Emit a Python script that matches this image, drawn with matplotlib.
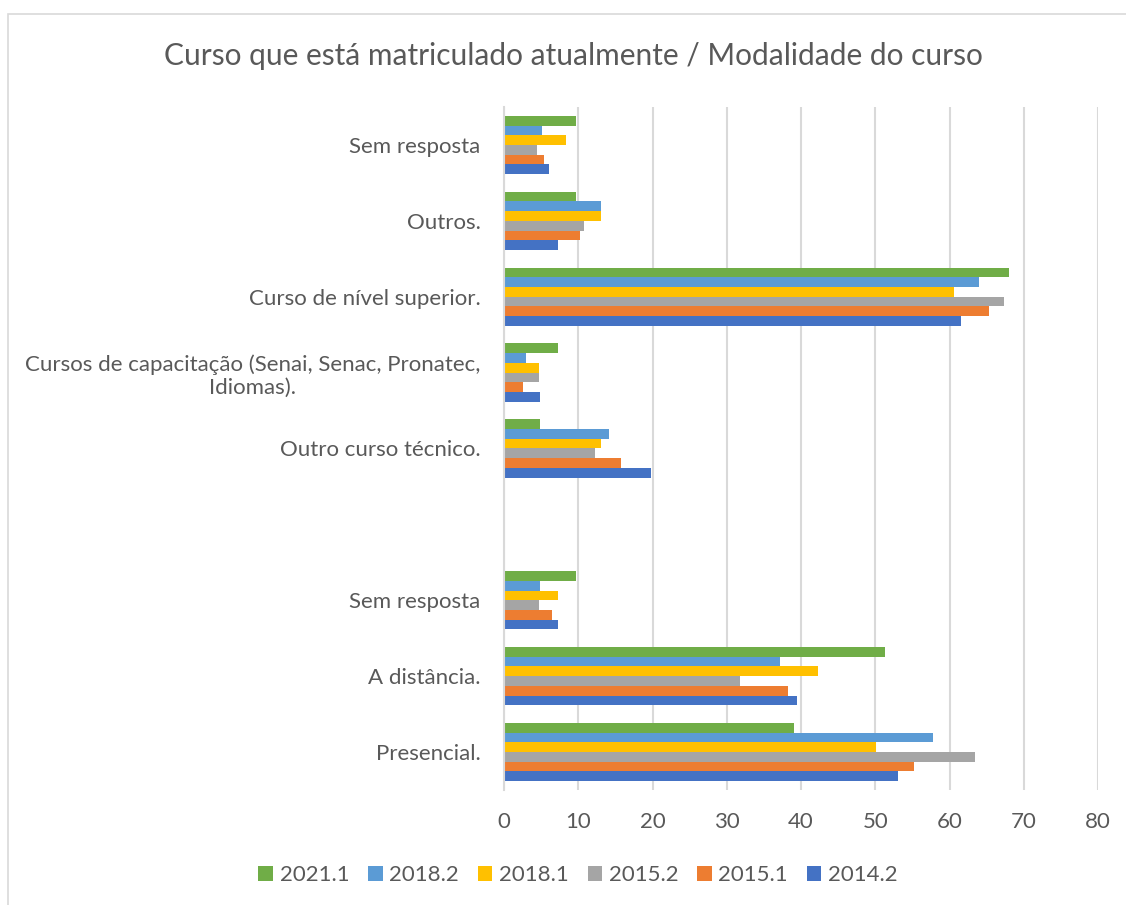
import numpy as np
import matplotlib
matplotlib.use("Agg")
import matplotlib.pyplot as plt
from matplotlib.patches import Rectangle

# categorias (de baixo para cima)
categorias = ["Presencial.", "A distância.", "Sem resposta", "",
              "Outro curso técnico.",
              "Cursos de capacitação (Senai, Senac, Pronatec,\nIdiomas).",
              "Curso de nível superior.", "Outros.", "Sem resposta"]

series = ["2014.2", "2015.1", "2015.2", "2018.1", "2018.2", "2021.1"]
cores = ["#4472C4", "#ED7D31", "#A5A5A5", "#FFC000", "#5B9BD5", "#70AD47"]

v_2014_2 = [53.1, 39.5, 7.3, 0, 19.8, 4.8, 61.5, 7.3, 6.1]
v_2015_1 = [55.2, 38.3, 6.5, 0, 15.8, 2.6, 65.3, 10.3, 5.4]
v_2015_2 = [63.4, 31.8, 4.7, 0, 12.2, 4.7, 67.3, 10.8, 4.4]
v_2018_1 = [50.1, 42.3, 7.3, 0, 13.0, 4.7, 60.6, 13.0, 8.4]
v_2018_2 = [57.8, 37.2, 4.8, 0, 14.2, 3.0, 64.0, 13.0, 5.1]
v_2021_1 = [39.0, 51.3, 9.7, 0, 4.8, 7.3, 68.0, 9.7, 9.7]
valores = [v_2014_2, v_2015_1, v_2015_2, v_2018_1, v_2018_2, v_2021_1]

plt.rcParams['font.family'] = ['Lato', 'DejaVu Sans']
cinza = "#595959"

fig = plt.figure(figsize=(11.26, 9.05), dpi=100)
ax = fig.add_axes([504/1126, 1-790/905, (1098-504)/1126, (790-107)/905])

# borda da área do gráfico
fig.patches.append(Rectangle((8/1126, -0.1), 1.2, 1-14/905+0.1, transform=fig.transFigure,
                             fill=False, edgecolor="#d9d9d9", linewidth=1.2))

y = np.arange(len(categorias))
h = 0.128
for i, (nome, vals) in enumerate(zip(series, valores)):
    ax.barh(y + (i - 2.5) * h, vals, height=h, color=cores[i], label=nome, zorder=3)

ax.set_xlim(0, 80)
ax.set_ylim(-0.5, len(categorias) - 0.5)
ax.set_xticks(range(0, 81, 10))
ax.set_yticks(y)
ax.set_yticklabels(categorias)
for t in ax.get_yticklabels():
    t.set_multialignment("center")
ax.tick_params(axis="both", length=0, labelsize=16, colors=cinza)
ax.tick_params(axis="x", pad=16)
ax.tick_params(axis="y", pad=17)
ax.grid(axis="x", color="#d9d9d9", linewidth=1.5, zorder=0)
for s in ["top", "right", "bottom"]:
    ax.spines[s].set_visible(False)
ax.spines["left"].set_color("#d9d9d9")
ax.spines["left"].set_linewidth(1.5)
ax.spines["left"].set_zorder(4)

fig.text(573/1126, 1-56/905, "Curso que está matriculado atualmente / Modalidade do curso",
         ha="center", va="center", fontsize=21.5, color=cinza)

hs, ls = ax.get_legend_handles_labels()
fig.legend(hs[::-1], ls[::-1], loc="center", bbox_to_anchor=(578/1126, 1-875/905), ncol=6,
           frameon=False, fontsize=16, labelcolor=cinza, handlelength=0.65, handleheight=0.65,
           handletextpad=0.3, columnspacing=0.85)

fig.savefig("out.png", dpi=100)
